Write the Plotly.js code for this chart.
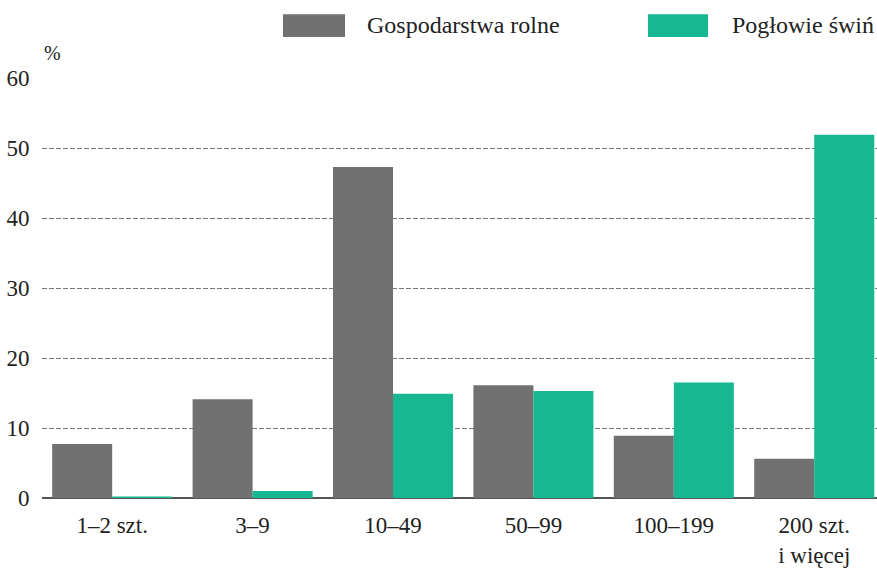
<!DOCTYPE html>
<html>
<head>
<meta charset="utf-8">
<script src="https://cdn.plot.ly/plotly-3.0.1.min.js"></script>
<style>
body{margin:0;padding:0;background:#fff;}
#chart svg text{font-family:"Liberation Serif","Times New Roman",serif !important;}
</style>
</head>
<body>
<div id="chart"></div>
<script>
const categories = ["1–2 szt.", "3–9", "10–49", "50–99", "100–199", "200 szt.<br>i więcej"];
const gospodarstwa = [7.7, 14.1, 47.3, 16.1, 8.9, 5.6];
const poglowie = [0.2, 1.0, 14.9, 15.3, 16.5, 51.9];
const seriesNames = ["Gospodarstwa rolne", "Pogłowie świń"];
const yTicks = [0, 10, 20, 30, 40, 50, 60];

const grayC = "#717172";
const greenC = "#17b792";
const serifFamily = "Liberation Serif";

const data = [
  {type: "bar", x: categories, y: gospodarstwa, name: seriesNames[0], marker: {color: grayC}},
  {type: "bar", x: categories, y: poglowie, name: seriesNames[1], marker: {color: greenC}}
];

const layout = {
  width: 877, height: 568,
  margin: {l: 42, r: 0, t: 78, b: 70},
  paper_bgcolor: "#fff", plot_bgcolor: "#fff",
  barmode: "group", bargap: 0.145, bargroupgap: 0,
  showlegend: false,
  xaxis: {
    type: "category", range: [-0.5, 5.447],
    showgrid: false, zeroline: false, showline: false,
    ticks: "outside", ticklen: 6, tickcolor: "rgba(0,0,0,0)",
    tickfont: {family: serifFamily, size: 23, color: "#222"}
  },
  yaxis: {
    range: [0, 60], tickvals: yTicks, ticktext: yTicks.map(String),
    showgrid: true, gridcolor: "#7a7a7a", gridwidth: 1, griddash: "5px,2px",
    zeroline: true, zerolinecolor: "#555", zerolinewidth: 1.5,
    showline: false, ticks: "outside", ticklen: 7, tickcolor: "rgba(0,0,0,0)",
    tickfont: {family: serifFamily, size: 23, color: "#222"}
  },
  shapes: [
    {type: "rect", xref: "paper", yref: "paper", x0: 0.2886, x1: 0.3629, y0: 1.0976, y1: 1.152, fillcolor: grayC, line: {width: 0}},
    {type: "rect", xref: "paper", yref: "paper", x0: 0.7257, x1: 0.7976, y0: 1.0976, y1: 1.152, fillcolor: greenC, line: {width: 0}}
  ],
  annotations: [
    {xref: "paper", yref: "paper", x: 0.3868, y: 1.126, xanchor: "left", yanchor: "middle", text: seriesNames[0], showarrow: false, font: {family: serifFamily, size: 24, color: "#222"}},
    {xref: "paper", yref: "paper", x: 0.824, y: 1.126, xanchor: "left", yanchor: "middle", text: seriesNames[1], showarrow: false, font: {family: serifFamily, size: 24, color: "#222"}},
    {xref: "paper", yref: "paper", x: 0.0, y: 1.06, xanchor: "left", yanchor: "middle", text: "%", showarrow: false, font: {family: serifFamily, size: 20, color: "#222"}}
  ]
};

Plotly.newPlot("chart", data, layout, {staticPlot: true});
</script>
</body>
</html>
